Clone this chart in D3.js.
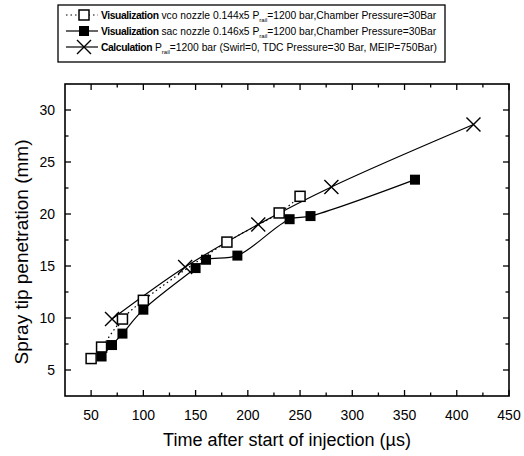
<!DOCTYPE html>
<html><head><meta charset="utf-8">
<script src="https://cdn.jsdelivr.net/npm/d3@7"></script>
<style>body{margin:0;background:#fff}svg{display:block}</style>
</head><body>
<svg id="c" width="524" height="456"></svg>
<script>
const vcoTime = [50, 60, 80, 100, 180, 230, 250];
const vcoPen  = [6.1, 7.2, 9.9, 11.7, 17.3, 20.1, 21.7];
const sacTime = [60, 70, 80, 100, 150, 160, 190, 240, 260, 360];
const sacPen  = [6.3, 7.4, 8.5, 10.8, 14.8, 15.6, 16.0, 19.5, 19.8, 23.3];
const calcTime = [70, 140, 210, 280, 416];
const calcPen  = [9.9, 14.9, 19.0, 22.6, 28.6];
const xTicks = [50, 100, 150, 200, 250, 300, 350, 400, 450];
const yTicks = [5, 10, 15, 20, 25, 30];

const svg = d3.select("#c");
const L = 65, R = 509, T = 84, B = 396;
const x = d3.scaleLinear().domain([25, 450]).range([L, R]);
const y = d3.scaleLinear().domain([2.5, 32.5]).range([B, T]);
const font = "'Liberation Sans', Arial, sans-serif";

// frame
svg.append("rect").attr("x", L).attr("y", T).attr("width", R - L).attr("height", B - T)
  .attr("fill", "none").attr("stroke", "#000").attr("stroke-width", 1.6);

const xMinor = d3.range(75, 450, 50);
const yMinor = d3.range(7.5, 32.5, 5);
// ticks inward
const tk = svg.append("g").attr("stroke", "#000").attr("stroke-width", 1.3);
xTicks.concat(xMinor).forEach(v => {
  const len = xTicks.includes(v) ? 6 : 3.5;
  tk.append("line").attr("x1", x(v)).attr("x2", x(v)).attr("y1", B).attr("y2", B - len);
  tk.append("line").attr("x1", x(v)).attr("x2", x(v)).attr("y1", T).attr("y2", T + len);
});
yTicks.concat(yMinor).forEach(v => {
  const len = yTicks.includes(v) ? 6 : 3.5;
  tk.append("line").attr("y1", y(v)).attr("y2", y(v)).attr("x1", L).attr("x2", L + len);
  tk.append("line").attr("y1", y(v)).attr("y2", y(v)).attr("x1", R).attr("x2", R - len);
});
// tick labels
svg.append("g").selectAll("text").data(xTicks).join("text")
  .attr("x", d => x(d)).attr("y", 420).attr("text-anchor", "middle")
  .attr("font-family", font).attr("font-size", 14).text(d => d);
svg.append("g").selectAll("text").data(yTicks).join("text")
  .attr("x", 55).attr("y", d => y(d) + 5).attr("text-anchor", "end")
  .attr("font-family", font).attr("font-size", 14).text(d => d);

// axis titles
svg.append("text").attr("x", 287).attr("y", 446).attr("text-anchor", "middle")
  .attr("font-family", font).attr("font-size", 18).text("Time after start of injection (\u00b5s)");
svg.append("text").attr("transform", "translate(28,252) rotate(-90)").attr("text-anchor", "middle")
  .attr("font-family", font).attr("font-size", 18).attr("textLength", 225).attr("lengthAdjust", "spacingAndGlyphs")
  .text("Spray tip penetration (mm)");

// lines
const curve = d3.curveCatmullRom.alpha(0.5);
const line = d3.line().x(d => x(d[0])).y(d => y(d[1])).curve(curve);
const vco = vcoTime.map((t, i) => [t, vcoPen[i]]);
const sac = sacTime.map((t, i) => [t, sacPen[i]]);
const calc = calcTime.map((t, i) => [t, calcPen[i]]);
svg.append("path").attr("d", line(calc)).attr("fill", "none").attr("stroke", "#000").attr("stroke-width", 1.2);
svg.append("path").attr("d", line(sac)).attr("fill", "none").attr("stroke", "#000").attr("stroke-width", 1.2);
svg.append("path").attr("d", line(vco)).attr("fill", "none").attr("stroke", "#000").attr("stroke-width", 1.2)
  .attr("stroke-dasharray", "1.5,3");

// markers
const s = 10;
function openSq(g, cx, cy) {
  g.append("rect").attr("x", cx - s / 2).attr("y", cy - s / 2).attr("width", s).attr("height", s)
    .attr("fill", "#fff").attr("stroke", "#000").attr("stroke-width", 1.5);
}
function fillSq(g, cx, cy) {
  g.append("rect").attr("x", cx - s / 2).attr("y", cy - s / 2).attr("width", s).attr("height", s)
    .attr("fill", "#000");
}
function cross(g, cx, cy) {
  const h = 7;
  g.append("path").attr("d", `M${cx-h},${cy-h}L${cx+h},${cy+h}M${cx-h},${cy+h}L${cx+h},${cy-h}`)
    .attr("stroke", "#000").attr("stroke-width", 1.4).attr("fill", "none");
}
const mk = svg.append("g");
vco.forEach(d => openSq(mk, x(d[0]), y(d[1])));
sac.forEach(d => fillSq(mk, x(d[0]), y(d[1])));
calc.forEach(d => cross(mk, x(d[0]), y(d[1])));

// legend
const lg = svg.append("g");
lg.append("rect").attr("x", 58).attr("y", 5).attr("width", 387).attr("height", 57)
  .attr("fill", "#fff").attr("stroke", "#000").attr("stroke-width", 1.3);
const rows = [
  {b: "Visualization", t1: " vco nozzle 0.144x5 P", t2: "=1200 bar,Chamber Pressure=30Bar", dash: "1.5,3", m: openSq},
  {b: "Visualization", t1: " sac nozzle 0.146x5 P", t2: "=1200 bar,Chamber Pressure=30Bar", dash: null, m: fillSq},
  {b: "Calculation", t1: " P", t2: "=1200 bar (Swirl=0, TDC Pressure=30 Bar, MEIP=750Bar)", dash: null, m: cross}
];
rows.forEach((r, i) => {
  const cy = 15 + i * 16;
  const ln = lg.append("line").attr("x1", 66).attr("x2", 98).attr("y1", cy).attr("y2", cy)
    .attr("stroke", "#000").attr("stroke-width", 1.2);
  if (r.dash) ln.attr("stroke-dasharray", r.dash);
  r.m(lg, 84, cy);
  const tx = lg.append("text").attr("x", 101).attr("y", cy + 4).attr("font-family", font)
    .attr("font-size", 10.3);
  tx.append("tspan").attr("font-weight", "bold").attr("letter-spacing", -0.4).text(r.b);
  tx.append("tspan").text(r.t1);
  tx.append("tspan").attr("font-size", 6).attr("dy", 3).text("rail");
  tx.append("tspan").attr("dy", -3).text(r.t2);
});
</script>
</body></html>
